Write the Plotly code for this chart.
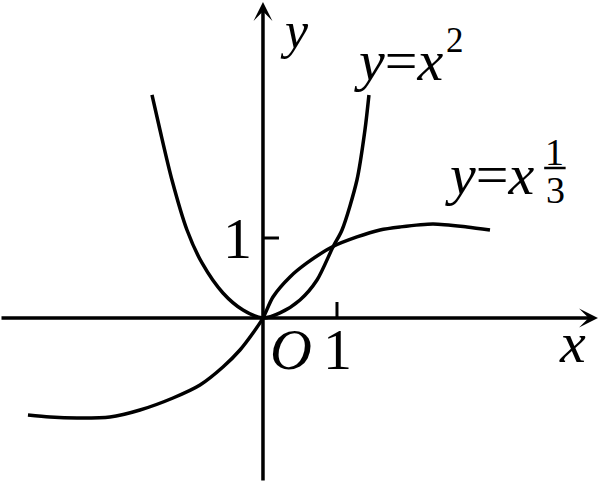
import plotly.graph_objects as go

# points (math units: 1 on x ~ 74px, 1 on y ~ 80px)
square_x = [-1.500, -1.392, -1.230, -1.027, -0.824, -0.541, -0.270, 0.0,
            0.230, 0.500, 0.730, 0.946, 1.068, 1.270, 1.378, 1.432]
square_y = [2.788, 2.350, 1.725, 1.100, 0.688, 0.313, 0.100, 0.0,
            0.063, 0.225, 0.475, 0.888, 1.100, 1.725, 2.350, 2.788]

cbrt_x = [-3.176, -2.878, -2.514, -2.068, -1.662, -1.216, -0.851, -0.541, -0.311, -0.135, 0.0,
          0.135, 0.365, 0.595, 0.932, 1.270, 1.581, 1.851, 2.297, 2.757, 3.068]
cbrt_y = [-1.213, -1.238, -1.250, -1.238, -1.150, -1.000, -0.838, -0.613, -0.400, -0.188, 0.0,
          0.263, 0.513, 0.688, 0.888, 1.013, 1.100, 1.138, 1.175, 1.138, 1.100]

tick_x = [1]
tick_y = [1]

x_range = [-3.554, 4.541]
y_range = [-2.2, 3.975]

FONT = "Liberation Serif"
BIG = 58

fig = go.Figure()

for xs, ys in [(square_x, square_y), (cbrt_x, cbrt_y)]:
    fig.add_trace(go.Scatter(x=xs, y=ys, mode='lines',
                             line=dict(color='black', width=3.5, shape='spline', smoothing=0.8),
                             hoverinfo='skip', showlegend=False))

# axes with arrows
fig.add_annotation(x=4.527, y=0, ax=x_range[0], ay=0, xref='x', yref='y', axref='x', ayref='y',
                   text='', showarrow=True, arrowhead=3, arrowwidth=3.5, arrowsize=0.9, arrowcolor='black')
fig.add_annotation(x=0, y=3.95, ax=0, ay=-2.05, xref='x', yref='y', axref='x', ayref='y',
                   text='', showarrow=True, arrowhead=3, arrowwidth=3.5, arrowsize=0.9, arrowcolor='black')

# ticks
for t in tick_x:
    fig.add_shape(type='line', x0=t, x1=t, y0=0, y1=0.2, line=dict(color='black', width=3))
for t in tick_y:
    fig.add_shape(type='line', x0=0, x1=0.216, y0=t, y1=t, line=dict(color='black', width=3))

def label(x, y, text, size=BIG, xanchor='center', yanchor='middle'):
    fig.add_annotation(x=x, y=y, text=text, showarrow=False, xanchor=xanchor, yanchor=yanchor,
                       font=dict(family=FONT, size=size, color='black'))

label(0.42, 3.97, '<i>y</i>', size=52, yanchor='top')
label(4.18, -0.31, '<i>x</i>')
label(0.38, -0.39, '<i>O</i>')
label(1.01, -0.39, '1')
label(-0.35, 0.99, '1')

# y = x^2
label(1.20, 3.225, '<i>y</i>=<i>x</i>', xanchor='left')
label(2.59, 3.47, '2', size=35)

# y = x^(1/3)
label(2.43, 1.79, '<i>y</i>=<i>x</i>', xanchor='left')
label(3.94, 2.07, '1', size=38)
label(3.95, 1.60, '3', size=38)
fig.add_shape(type='line', x0=3.80, x1=4.09, y0=1.875, y1=1.875, line=dict(color='black', width=2.5))

fig.update_xaxes(range=x_range, visible=False, fixedrange=True)
fig.update_yaxes(range=y_range, visible=False, fixedrange=True)
fig.update_layout(width=599, height=494, margin=dict(l=0, r=0, t=0, b=0),
                  plot_bgcolor='white', paper_bgcolor='white')

# drop the page's default body margin so the figure sits at the window corner
fig.write_html("out.html", config={'displayModeBar': False},
               post_script="document.body.style.margin='0';")
